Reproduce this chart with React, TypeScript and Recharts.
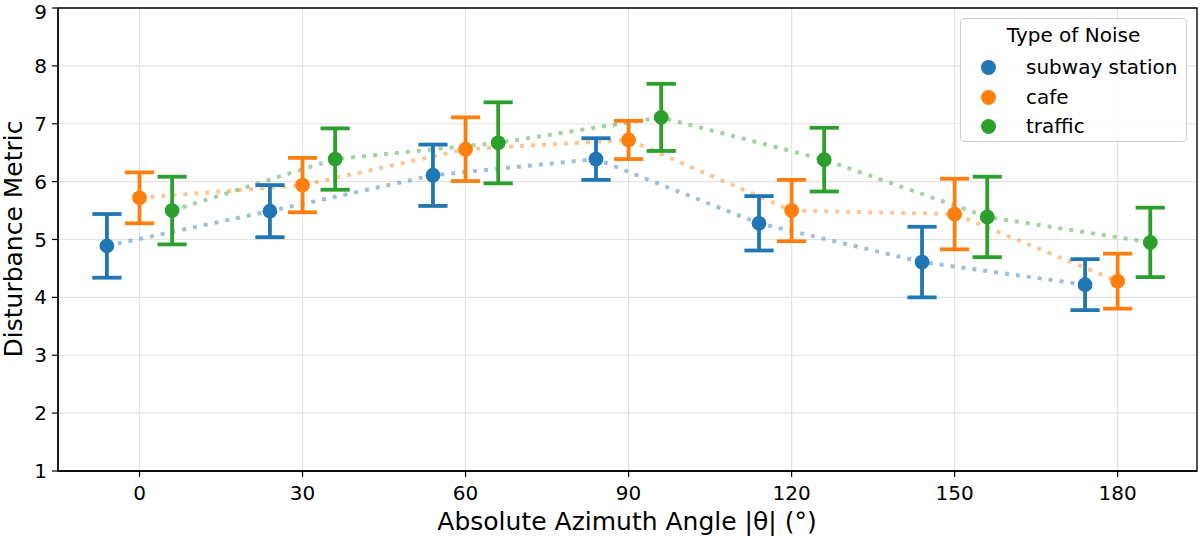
import React from "react";
import {
  ComposedChart,
  Line,
  Scatter,
  ErrorBar,
  XAxis,
  YAxis,
  CartesianGrid,
  ReferenceArea,
} from "recharts";

// angles on the x axis (cafe sits on the tick, the others are shifted)
const angles = [0, 30, 60, 90, 120, 150, 180];
const angleTicks = [0, 30, 60, 90, 120, 150, 180];
const metricTicks = [1, 2, 3, 4, 5, 6, 7, 8, 9];

const noiseNames = ["subway station", "cafe", "traffic"];
const noiseColors = ["#1f77b4", "#ff7f0e", "#2ca02c"];
const noiseShift = [-6, 0, 6];

const subwayMean = [4.89, 5.49, 6.11, 6.39, 5.28, 4.61, 4.22];
const subwayErr = [0.55, 0.45, 0.53, 0.36, 0.47, 0.61, 0.44];
const cafeMean = [5.72, 5.94, 6.56, 6.72, 5.5, 5.44, 4.28];
const cafeErr = [0.44, 0.47, 0.55, 0.33, 0.53, 0.61, 0.475];
const trafficMean = [5.5, 6.39, 6.67, 7.11, 6.38, 5.39, 4.95];
const trafficErr = [0.585, 0.53, 0.7, 0.58, 0.55, 0.695, 0.6];

const means = [subwayMean, cafeMean, trafficMean];
const errs = [subwayErr, cafeErr, trafficErr];

const X_MIN = -15;
const X_MAX = 194.6;
const FONT = "'DejaVu Sans', sans-serif";

const series = noiseNames.map((name, i) => ({
  name,
  color: noiseColors[i],
  data: angles.map((a, j) => ({ x: a + noiseShift[i], y: means[i][j], err: errs[i][j] })),
}));

function Legend() {
  return (
    <div
      style={{
        position: "absolute",
        left: 960,
        top: 18,
        width: 227,
        height: 124,
        border: "1px solid #cccccc",
        borderRadius: 4,
        background: "rgba(255,255,255,0.85)",
        fontFamily: FONT,
        fontSize: 20,
        color: "#000",
        boxSizing: "border-box",
      }}
    >
      <div style={{ position: "absolute", top: 3, left: 0, width: "100%", textAlign: "center", lineHeight: "26px" }}>
        Type of Noise
      </div>
      {series.map((s, i) => (
        <div key={s.name} style={{ position: "absolute", left: 0, top: 35 + i * 29.7, height: 26, lineHeight: "26px" }}>
          <span
            style={{
              position: "absolute",
              left: 20,
              top: 6,
              width: 15,
              height: 15,
              borderRadius: "50%",
              background: s.color,
            }}
          />
          <span style={{ position: "absolute", left: 65, top: 0, whiteSpace: "nowrap" }}>{s.name}</span>
        </div>
      ))}
    </div>
  );
}

export default function App() {
  return (
    <div style={{ position: "absolute", left: 0, top: 0, width: 1200, height: 537, background: "#fff" }}>
      <ComposedChart width={1200} height={537} margin={{ top: 8, right: 3, left: 0, bottom: 0 }}>
        <CartesianGrid stroke="#e3e3e3" strokeWidth={1.2} />
        <XAxis
          type="number"
          dataKey="x"
          domain={[X_MIN, X_MAX]}
          ticks={angleTicks}
          allowDataOverflow
          height={66}
          axisLine={{ stroke: "#000", strokeWidth: 1.3 }}
          tickSize={6}
          tickMargin={9}
          tickLine={{ stroke: "#000", strokeWidth: 1.2 }}
          tick={{ fill: "#000", fontSize: 20, fontFamily: FONT }}
          label={{
            content: () => (
              <text x={627} y={530} textAnchor="middle" fontSize={25} fontFamily={FONT} fill="#000">
                Absolute Azimuth Angle |θ| (°)
              </text>
            ),
          }}
        />
        <YAxis
          type="number"
          domain={[1, 9]}
          ticks={metricTicks}
          allowDataOverflow
          width={58}
          axisLine={{ stroke: "#000", strokeWidth: 1.3 }}
          tickSize={6}
          tickMargin={5}
          tickLine={{ stroke: "#000", strokeWidth: 1.2 }}
          tick={{ fill: "#000", fontSize: 20, fontFamily: FONT }}
          label={{
            content: () => (
              <text
                x={22}
                y={239}
                transform="rotate(-90 22 239)"
                textAnchor="middle"
                fontSize={25}
                fontFamily={FONT}
                fill="#000"
              >
                Disturbance Metric
              </text>
            ),
          }}
        />
        <ReferenceArea x1={X_MIN} x2={X_MAX} y1={1} y2={9} fill="none" stroke="#000" strokeWidth={1.3} fillOpacity={0} strokeOpacity={1} />
        {series.map((s) => (
          <Line
            key={"line-" + s.name}
            data={s.data}
            dataKey="y"
            type="linear"
            stroke={s.color}
            strokeOpacity={0.45}
            strokeWidth={4}
            strokeDasharray="4 7"
            dot={false}
            activeDot={false}
            isAnimationActive={false}
          />
        ))}
        {series.map((s) => (
          <Scatter
            key={"pts-" + s.name}
            data={s.data}
            dataKey="y"
            fill={s.color}
            isAnimationActive={false}
            shape={(p: any) => <circle cx={p.cx} cy={p.cy} r={7.4} fill={s.color} />}
          >
            <ErrorBar dataKey="err" direction="y" width={14.6} stroke={s.color} strokeWidth={3.8} />
          </Scatter>
        ))}
      </ComposedChart>
      <Legend />
    </div>
  );
}
